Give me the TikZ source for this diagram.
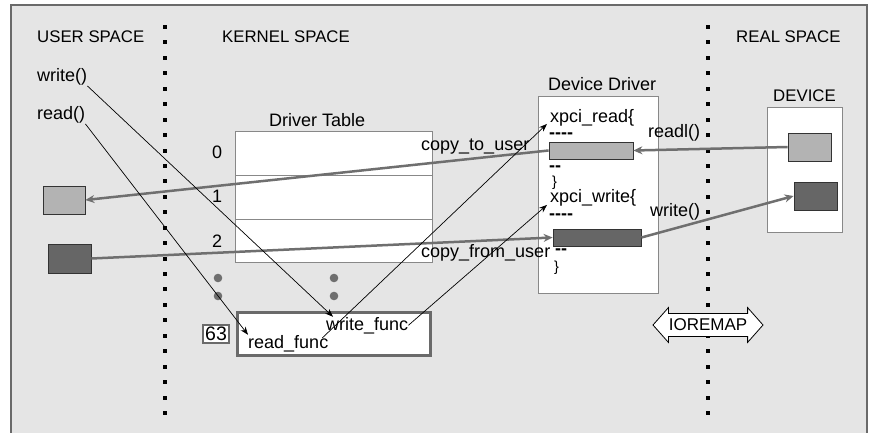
\documentclass[tikz,border=0pt]{standalone}
\usepackage{fontspec}
\setmainfont{Liberation Sans}
\usetikzlibrary{shapes.arrows,arrows.meta,calc}

\definecolor{bgc}{HTML}{E5E5E5}
\definecolor{framec}{HTML}{6A6A6A}
\definecolor{linegray}{HTML}{888888}
\definecolor{arrowgray}{HTML}{6F6F6F}
\definecolor{lightfill}{HTML}{B3B3B3}
\definecolor{darkfill}{HTML}{666666}
\definecolor{edgedark}{HTML}{333333}

\tikzset{
  txt/.style={anchor=base west, inner sep=0pt, font=\fontsize{18}{20}\selectfont},
  capstxt/.style={anchor=base west, inner sep=0pt, font=\fontsize{16.8}{19}\selectfont},
  bracetxt/.style={anchor=base west, inner sep=0pt, font=\fontsize{14.5}{16}\selectfont},
  dashtxt/.style={anchor=west, inner sep=0pt, font=\fontsize{18}{20}\selectfont\bfseries},
  panel/.style={draw=linegray, fill=white, line width=0.8pt},
  lightbox/.style={draw=edgedark, fill=lightfill, line width=0.8pt},
  darkbox/.style={draw=edgedark, fill=darkfill, line width=0.8pt},
  grayarrow/.style={draw=arrowgray, line width=2.5pt, -{Stealth[length=9pt,width=8pt]}},
  callarrow/.style={draw=black, line width=0.7pt, -{Stealth[length=8pt,width=6pt]}},
  dotsq/.style={fill=black},
  rowdot/.style={fill=arrowgray},
}

\begin{document}
\begin{tikzpicture}[x=1pt,y=-1pt]
\useasboundingbox (0,0) rectangle (869,433);
\clip (0,0) rectangle (869,433);
\fill[white] (0,0) rectangle (869,433);

% background panel
\draw[fill=bgc, draw=framec, line width=1.6pt] (10.8,5) rectangle (867,450);

% dotted separators between the spaces
\foreach \i in {0,...,25} {
  \fill[dotsq] (163,{25+\i*15.44}) rectangle ++(4,4);
  \fill[dotsq] (706,{25+\i*15.44}) rectangle ++(4,4);
}

% space titles
\node[capstxt] (us) at (37,43) {USER SPACE};
\node[capstxt] (ks) at (222,43) {KERNEL SPACE};
\node[capstxt] (rs) at (736,43) {REAL SPACE};

% user space calls
\node[txt] (uw) at (37,82) {write()};
\node[txt] (ur) at (37,120) {read()};

% user buffers
\node[lightbox, minimum width=42pt, minimum height=28pt, inner sep=0pt] (ulb) at (64,200) {};
\node[darkbox, minimum width=43pt, minimum height=29pt, inner sep=0pt] (udb) at (69.5,258.5) {};

% driver table
\node[txt] (dtl) at (269,127) {Driver Table};
\draw[panel] (235.5,131.5) rectangle (432,262.7);
\draw[linegray, line width=0.8pt] (235.5,175.3) -- (432,175.3);
\draw[linegray, line width=0.8pt] (235.5,219) -- (432,219);
\node[txt] (r0) at (212,158) {0};
\node[txt] (r1) at (212,202) {1};
\node[txt] (r2) at (212,247) {2};
\fill[rowdot] (218,278) circle (4.3);
\fill[rowdot] (218,296) circle (4.3);
\fill[rowdot] (334,278) circle (4.3);
\fill[rowdot] (334,296) circle (4.3);

% entry 63 with its function pointers
\node[draw=framec, fill=white, line width=2.2pt, inner sep=0pt, minimum width=26pt, minimum height=18pt,
      font=\fontsize{19.5}{20}\selectfont] (n63) at (216,334) {63};
\draw[draw=framec, fill=white, line width=3pt] (237.5,312.5) rectangle (430.5,355.5);
\node[txt] (wf) at (326,330) {write\_func};
\node[txt] (rf) at (248,348) {read\_func};

% device driver
\node[txt] (ddl) at (548,91) {Device Driver};
\draw[panel] (538,96) rectangle (658,293);
\node[txt] (xr) at (550,122) {xpci\_read\{};
\node[dashtxt] (d1) at (549,136) {-{}-{}-{}-};
\node[lightbox, minimum width=84pt, minimum height=17pt, inner sep=0pt] (dlb) at (591,150.5) {};
\node[dashtxt] (d2) at (549,169) {-{}-};
\node[bracetxt] (c1) at (552,186) {\}};
\node[txt] (xw) at (550,202) {xpci\_write\{};
\node[dashtxt] (d3) at (549,217) {-{}-{}-{}-};
\node[darkbox, minimum width=88pt, minimum height=17pt, inner sep=0pt] (ddb) at (597,237.5) {};
\node[txt] (cfu) at (421,257) {copy\_from\_user};
\node[dashtxt] (d4) at (555,252) {-{}-};
\node[bracetxt] (c2) at (554,271) {\}};
\node[txt] (ctu) at (421,150) {copy\_to\_user};

% hardware side
\node[txt] (rl) at (648,137) {readl()};
\node[txt] (wl) at (650,216) {write()};
\node[capstxt] (dvl) at (773,102) {DEVICE};
\draw[panel] (767,107) rectangle (842,232);
\node[lightbox, minimum width=43pt, minimum height=28pt, inner sep=0pt] (hlb) at (809.5,147) {};
\node[darkbox, minimum width=43pt, minimum height=28pt, inner sep=0pt] (hdb) at (815.5,196) {};

% ioremap marker
\node[double arrow, draw=black, fill=white, line width=0.8pt,
      minimum height=110pt, double arrow head extend=6pt, double arrow tip angle=97,
      inner xsep=2pt, inner ysep=5pt, font=\fontsize{17}{19}\selectfont] (io) at (708,325) {IOREMAP};

% data paths
\draw[grayarrow] (hlb.west) -- (dlb.east);
\draw[grayarrow] (dlb.west) -- (ulb.east);
\draw[grayarrow] (udb.east) -- (ddb.west);
\draw[grayarrow] (ddb.east) -- (hdb.west);

% call paths
\draw[callarrow] (uw.south east) -- ($(wf.north west)+(7,0)$);
\draw[callarrow] (ur.south east) -- (rf.north west);
\draw[callarrow] ($(rf.north east)+(-6,3)$) -- ($(xr.south west)+(-3,-2)$);
\draw[callarrow] (wf.east) -- ($(xw.south west)+(-3,-1)$);
\end{tikzpicture}
\end{document}
